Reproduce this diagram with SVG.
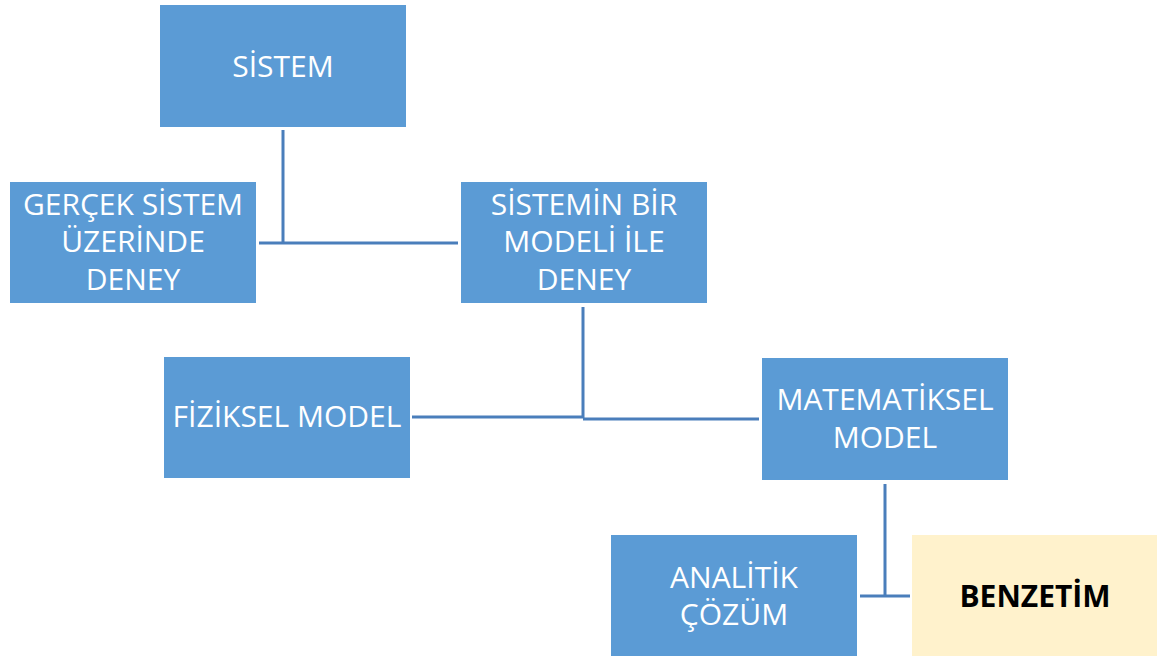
<svg xmlns="http://www.w3.org/2000/svg" width="1157" height="660" viewBox="0 0 1157 660">
  <style>
    .box { fill: #5B9BD5; }
    .hl { fill: #FFF2CC; }
    .lbl { font-family: "Open Sans", "Liberation Sans", sans-serif; font-size: 30px; fill: #ffffff; text-anchor: middle; }
    .bold { font-weight: bold; fill: #000000; }
    .wire { stroke: #4A7EBB; stroke-width: 3; fill: none; }
  </style>
  <rect width="1157" height="660" fill="#ffffff"/>

  <g id="connectors">
    <path class="wire" d="M283 130 V243 M259 243 H458"/>
    <path class="wire" d="M583 307 V418 M412 417 H583 M583 419 H759"/>
    <path class="wire" d="M885 484 V597 M860 596 H910"/>
  </g>

  <g id="sistem">
    <rect class="box" x="160" y="5" width="246" height="122"/>
    <text class="lbl" x="283" y="77">SİSTEM</text>
  </g>

  <g id="gercek-sistem">
    <rect class="box" x="10" y="182" width="246" height="121"/>
    <text class="lbl" x="133" y="215">GERÇEK SİSTEM</text>
    <text class="lbl" x="133" y="252">ÜZERİNDE</text>
    <text class="lbl" x="133" y="290">DENEY</text>
  </g>

  <g id="model-ile-deney">
    <rect class="box" x="461" y="182" width="246" height="121"/>
    <text class="lbl" x="584" y="215">SİSTEMİN BİR</text>
    <text class="lbl" x="584" y="252">MODELİ İLE</text>
    <text class="lbl" x="584" y="290">DENEY</text>
  </g>

  <g id="fiziksel-model">
    <rect class="box" x="164" y="357" width="246" height="121"/>
    <text class="lbl" x="287" y="427">FİZİKSEL MODEL</text>
  </g>

  <g id="matematiksel-model">
    <rect class="box" x="762" y="358" width="246" height="122"/>
    <text class="lbl" x="885" y="410">MATEMATİKSEL</text>
    <text class="lbl" x="885" y="448">MODEL</text>
  </g>

  <g id="analitik-cozum">
    <rect class="box" x="611" y="535" width="246" height="121"/>
    <text class="lbl" x="734" y="588">ANALİTİK</text>
    <text class="lbl" x="734" y="625">ÇÖZÜM</text>
  </g>

  <g id="benzetim">
    <rect class="hl" x="912" y="535" width="245" height="121"/>
    <text class="lbl bold" x="1035" y="607">BENZETİM</text>
  </g>
</svg>
